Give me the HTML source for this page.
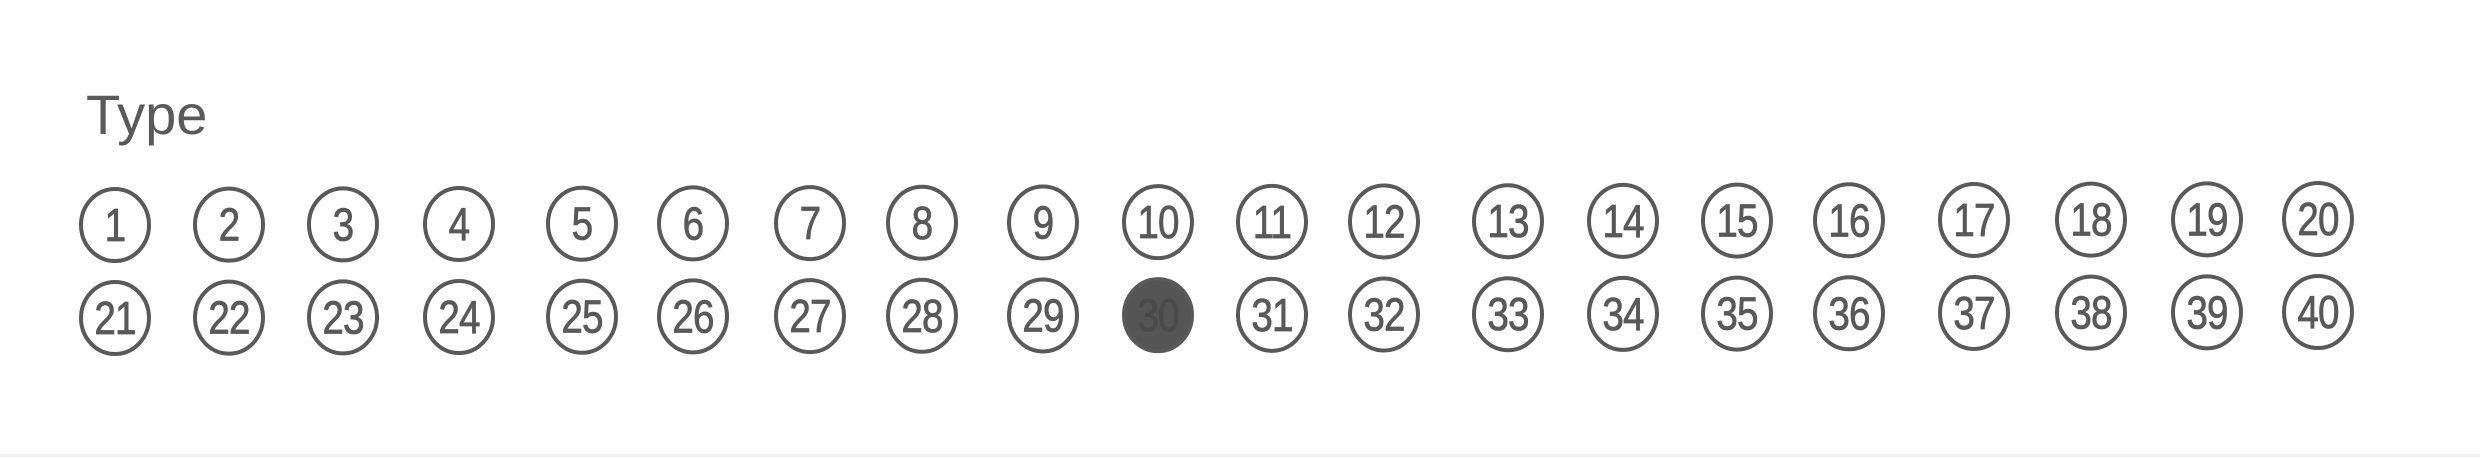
<!DOCTYPE html>
<html><head><meta charset="utf-8"><style>
html,body{margin:0;padding:0;background:#fff;}
#wrap{position:relative;width:2480px;height:457px;overflow:hidden;background:#fff;}
#title{position:absolute;left:86px;top:82px;font-family:"Liberation Sans",sans-serif;font-size:56px;color:#595959;}
#bottom-line{position:absolute;left:0;bottom:0;width:2480px;height:3px;background:#eeeeee;}
svg{position:absolute;left:0;top:0;}
</style></head><body>
<div id="wrap">
<div id="title">Type</div>
<svg id="chart" width="2480" height="457"></svg>
<div id="bottom-line"></div>
</div>
<script>
const labelsRow1 = ["1","2","3","4","5","6","7","8","9","10","11","12","13","14","15","16","17","18","19","20"];
const labelsRow2 = ["21","22","23","24","25","26","27","28","29","30","31","32","33","34","35","36","37","38","39","40"];
const selected = ["30"];
const colX = [115,229,343,459,582,693,810,922,1043,1158,1272,1384,1508,1623,1737,1849,1974,2091,2207,2318];
const rowY = [225,318];
const svg = document.getElementById('chart');
const NS = 'http://www.w3.org/2000/svg';
function draw(labels, r){
  labels.forEach((lab,i)=>{
    const cx = colX[i], cy = rowY[r] - (i/19)*6;
    const sel = selected.includes(lab);
    const g = document.createElementNS(NS,'g');
    
    
    const e = document.createElementNS(NS,'ellipse');
    e.setAttribute('cx',cx);e.setAttribute('cy',cy);e.setAttribute('rx',34);e.setAttribute('ry',36);
    e.setAttribute('fill',sel?'#555555':'#ffffff');e.setAttribute('stroke','#595959');e.setAttribute('stroke-width',4);
    g.appendChild(e);
    const t = document.createElementNS(NS,'text');
    t.setAttribute('transform','translate('+cx+','+(cy+16)+') scale(0.84,1)');
    t.setAttribute('text-anchor','middle');
    t.setAttribute('font-family','Liberation Sans, sans-serif');t.setAttribute('font-size',46);
    t.setAttribute('letter-spacing',-1);
    t.setAttribute('stroke',sel?'#4a4a4a':'#595959');t.setAttribute('stroke-width',0.8);
    t.setAttribute('fill',sel?'#4a4a4a':'#595959');
    t.textContent = lab;
    g.appendChild(t);
    svg.appendChild(g);
  });
}
draw(labelsRow1,0);
draw(labelsRow2,1);
</script>
</body></html>
